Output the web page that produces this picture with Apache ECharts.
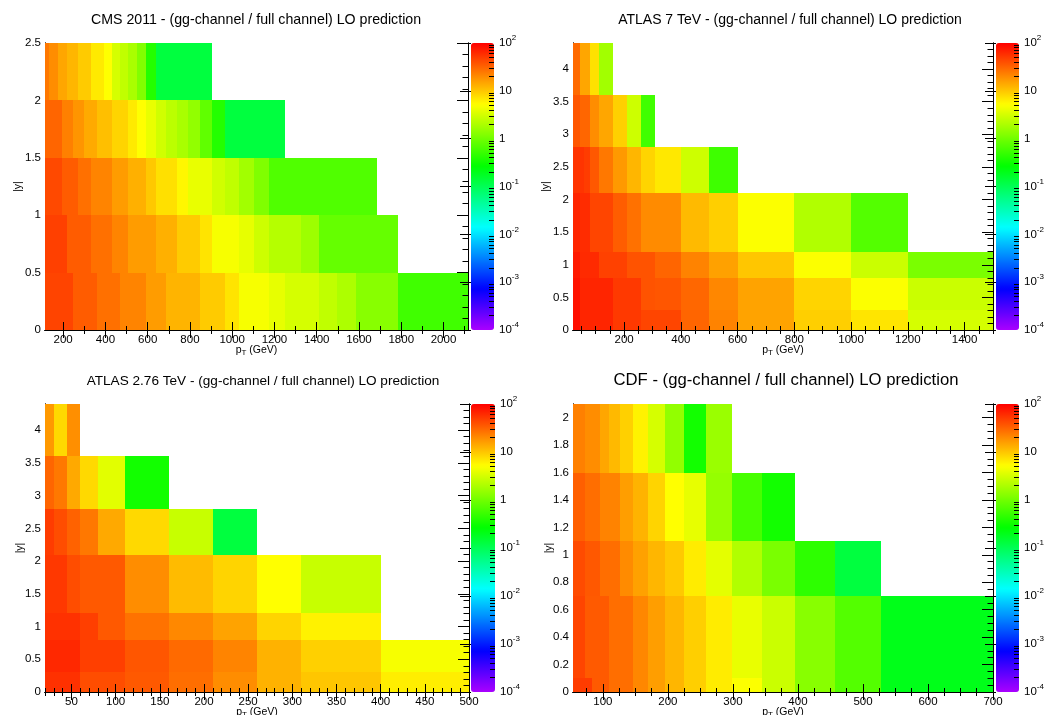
<!DOCTYPE html>
<html><head><meta charset="utf-8">
<script src="https://cdn.jsdelivr.net/npm/echarts@6/dist/echarts.min.js"></script>
<style>html,body{margin:0;padding:0;background:#fff}#c{width:1048px;height:715px}</style>
</head><body><div id="c"></div>
<script>
// ---------------- DATA (ratio gg-channel / full channel, %) ----------------
// CMS 2011
const cmsPtEdges = [114,133,153,174,196,220,245,272,300,330,362,395,430,468,507,548,592,638,686,737,790,846,905,967,1032,1101,1172,1248,1327,1410,1497,1588,1684,1784,1890,2000,2116];
const cmsYEdges = [0, 0.5, 1.0, 1.5, 2.0, 2.5];
const cmsRow0 = [45.5,45.5,45.5,45.5,45.5,45.5,34.4,34.4,34.4,34.4,27.2,27.2,27.2,21.7,21.7,21.7,16.4,16.4,12.3,12.3,12.3,9.4,9.4,7.1,4.7,4.7,3.9,3.2,3.2,2.5,2.0,1.3,1.3,0.56,0.56,0.56];
const cmsRow1 = [47.7,47.7,47.7,47.7,47.7,34.4,34.4,34.4,34.4,27.2,27.2,27.2,21.7,21.7,16.4,16.4,16.4,12.9,12.9,9.4,9.4,7.1,4.7,4.7,3.9,2.9,2.2,2.2,1.66,0.87,0.87,0.87,0.87];
const cmsRow2 = [43,43,43,43,34.4,34.4,34.4,27.2,27.2,21.7,21.7,21.7,16.4,16.4,12.9,12.9,9.8,7.4,7.4,5.7,4.0,4.0,3.0,2.5,1.75,1.18,0.68,0.68,0.68,0.68,0.68,0.68];
const cmsRow3 = [31,31,31,31,22.7,22.7,17.8,17.8,13.9,13.9,10.9,10.9,8.5,8.5,6.6,5.2,4.0,3.0,2.35,1.9,1.45,0.82,0.4,0.13,0.13,0.13,0.13];
const cmsRow4 = [25,19.5,19.5,14.6,14.6,12,12,9.4,9.4,6.6,6.6,5.2,3.2,2.5,1.9,1.2,0.4,0.13,0.13,0.13,0.13,0.13];
const cmsXTicks = [200,400,600,800,1000,1200,1400,1600,1800,2000];
const cmsYTicks = [0,0.5,1,1.5,2,2.5];

// ATLAS 7 TeV
const a7PtEdges = [20,30,45,60,80,110,160,210,260,310,400,500,600,800,1000,1200,1500];
const a7YEdges = [0,0.3,0.8,1.2,2.1,2.8,3.6,4.4];
const a7Row0 = [85,85,65,65,65,65,52,52,45,45,31,22,15,9,7,3.2];
const a7Row1 = [80,80,65,65,65,65,52,52,38,37,30,21,15,8.5,5,2.8];
const a7Row2 = [75,75,62,62,62,47,47,38,38,31,22,15.5,10,5,2.8,1.1];
const a7Row3 = [65,65,60,60,45,45,34,27,20,20,11.5,9,5,2.1,0.7];
const a7Row4 = [55,55,55,50,36,25,17,12,8.5,6.8,2.9,0.55];
const a7Row5 = [37,37,30.5,30.5,19.6,14.6,8.9,2.9,0.56];
const a7Row6 = [29,29,14.6,14.6,7.3,1.75];
const a7XTicks = [200,400,600,800,1000,1200,1400];
const a7YTicks = [0,0.5,1,1.5,2,2.5,3,3.5,4];

// ATLAS 2.76 TeV
const a276PtEdges = [20,30,45,60,80,110,160,210,260,310,400,500];
const a276YEdges = [0,0.3,0.8,1.2,2.1,2.8,3.6,4.4];
const a276Row0 = [57,57,57,41,41,35.5,28,19.6,12.6,10,6.3];
const a276Row1 = [63,63,63,48,48,37,29,21.7,12.6,8.9,4.7];
const a276Row2 = [57,57,57,48,35.5,26.5,20.6,15,8.5,6];
const a276Row3 = [52.5,52.5,41,35.5,35.5,19.6,11.4,8.5,5.2,2.7];
const a276Row4 = [50,41,32,25,14,8,2.7,0.13];
const a276Row5 = [31,25,14,8,3.7,0.33];
const a276Row6 = [17,8,19];
const a276XTicks = [50,100,150,200,250,300,350,400,450,500];
const a276YTicks = [0,0.5,1,1.5,2,2.5,3,3.5,4];

// CDF
const cdfPtEdges = [54,62,72,83,96,110,127,146,169,195,224,259,298,344,396,457,527,700];
const cdfYEdges = [0,0.1,0.7,1.1,1.6,2.1];
const cdfRow0 = [50,50,50,35,35,28,28,21,16,12,9,6.5,5,2.8,1.3,0.7,0.2];
const cdfRow1 = [45,45,35,35,35,28,28,21,16,12,9,6.5,4,2.8,1.3,0.7,0.2];
const cdfRow2 = [42,42,36,36,28,28,20,15.5,12,9.6,6.5,3.8,2.1,1.1,0.45,0.13];
const cdfRow3 = [33,33,28,28,22,22,16,12.5,8.5,5.2,3.9,1.5,0.6,0.33];
const cdfRow4 = [22.7,22.7,19.6,19.6,14.6,11.7,8.9,6,3.2,1.45,0.33,1.6];
const cdfXTicks = [100,200,300,400,500,600,700];
const cdfYTicks = [0,0.2,0.4,0.6,0.8,1,1.2,1.4,1.6,1.8,2];

// colour scale (log10 of ratio)
const zTicks = [-4,-3,-2,-1,0,1,2];

// ---------------- helpers ----------------
const FONT = '"Liberation Sans", Arial, Helvetica, sans-serif';
function range(a, b, s) { const r = []; for (let i = 0; a + i * s <= b + 1e-9; i++) r.push(+(a + i * s).toFixed(6)); return r; }
function hsl(h) {
  const f = n => { const k = (n + h / 30) % 12; return 0.5 - 0.5 * Math.max(-1, Math.min(k - 3, 9 - k, 1)); };
  const t = x => Math.round(x * 255).toString(16).padStart(2, '0');
  return '#' + t(f(0)) + t(f(8)) + t(f(4));
}
const palette = []; for (let h = 280; h >= 0; h -= 5) palette.push(hsl(h));
function cells(xEdges, yEdges, rows) {
  const out = [];
  rows.forEach((vals, r) => vals.forEach((v, i) => out.push([xEdges[i], xEdges[i + 1], yEdges[r], yEdges[r + 1], Math.log10(v), v])));
  return out;
}
const zMinor = [];
for (let n = -4; n < 2; n++) for (let k = 2; k <= 9; k++) zMinor.push(Math.log10(k) + n);

const panels = [
  { title: 'CMS 2011 - (gg-channel / full channel) LO prediction', tx: 256, ty: 20, ts: 14.2,
    grid: { left: 45, top: 43, width: 423, height: 287 }, bar: { left: 471, top: 43, width: 23, height: 287 },
    xE: cmsPtEdges, yE: cmsYEdges, rows: [cmsRow0, cmsRow1, cmsRow2, cmsRow3, cmsRow4],
    xMin: 114, xMax: 2116, yMax: 2.5, xMaj: cmsXTicks, xMin2: range(200, 2100, 100), yMaj: cmsYTicks, yMin2: range(0, 2.5, 0.1), yGap: 21 },
  { title: 'ATLAS 7 TeV - (gg-channel / full channel) LO prediction', tx: 790, ty: 20, ts: 14,
    grid: { left: 573, top: 43, width: 420, height: 287 }, bar: { left: 996, top: 43, width: 23, height: 287 },
    xE: a7PtEdges, yE: a7YEdges, rows: [a7Row0, a7Row1, a7Row2, a7Row3, a7Row4, a7Row5, a7Row6],
    xMin: 20, xMax: 1500, yMax: 4.4, xMaj: a7XTicks, xMin2: range(50, 1500, 50), yMaj: a7YTicks, yMin2: range(0, 4.4, 0.1), yGap: 21 },
  { title: 'ATLAS 2.76 TeV - (gg-channel / full channel) LO prediction', tx: 263, ty: 381, ts: 13.6,
    grid: { left: 45, top: 404, width: 424, height: 288 }, bar: { left: 471, top: 404, width: 24, height: 288 },
    xE: a276PtEdges, yE: a276YEdges, rows: [a276Row0, a276Row1, a276Row2, a276Row3, a276Row4, a276Row5, a276Row6],
    xMin: 20, xMax: 500, yMax: 4.4, xMaj: a276XTicks, xMin2: range(20, 500, 10), yMaj: a276YTicks, yMin2: range(0, 4.4, 0.1), yGap: 19 },
  { title: 'CDF - (gg-channel / full channel) LO prediction', tx: 786, ty: 380, ts: 16.7,
    grid: { left: 573, top: 404, width: 420, height: 288 }, bar: { left: 996, top: 404, width: 23, height: 288 },
    xE: cdfPtEdges, yE: cdfYEdges, rows: [cdfRow0, cdfRow1, cdfRow2, cdfRow3, cdfRow4],
    xMin: 54, xMax: 700, yMax: 2.1, xMaj: cdfXTicks, xMin2: range(75, 700, 25), yMaj: cdfYTicks, yMin2: range(0, 2.1, 0.05), yGap: 18 }
];

const grid = [], xAxis = [], yAxis = [], series = [], visualMap = [], graphic = [];
const lbl = { color: '#000', fontFamily: FONT, fontSize: 11.5, formatter: v => String(+v.toFixed(4)) };
const line = { show: true, lineStyle: { color: '#000', width: 1 } };

panels.forEach((p, i) => {
  const gi = grid.length;
  grid.push(Object.assign({ show: false, containLabel: false, outerBoundsMode: 'none' }, p.grid));
  const bx = { type: 'value', gridIndex: gi, min: p.xMin, max: p.xMax, splitLine: { show: false }, axisLine: line };
  const xi = xAxis.length;
  xAxis.push(Object.assign({}, bx, { position: 'bottom', z: 5,
    axisTick: { inside: true, length: 8, customValues: p.xMaj, lineStyle: { color: '#000' } },
    axisLabel: Object.assign({ customValues: p.xMaj, margin: 4 }, lbl),
    name: '{a|p}{t|T}{a| (GeV)}', nameLocation: 'middle', nameGap: 15, nameMoveOverlap: false,
    nameTextStyle: { rich: {
      a: { fontFamily: FONT, fontSize: 10.5, color: '#000', verticalAlign: 'top', lineHeight: 12 },
      t: { fontFamily: FONT, fontSize: 8, color: '#000', verticalAlign: 'bottom', lineHeight: 9, padding: [9, 0, 0, 0] } } } }));
  xAxis.push(Object.assign({}, bx, { position: 'bottom', z: 5, axisTick: { inside: true, length: 4, customValues: p.xMin2, lineStyle: { color: '#000' } }, axisLabel: { show: false } }));
  xAxis.push(Object.assign({}, bx, { position: 'top', axisTick: { inside: true, length: 8, customValues: p.xMaj, lineStyle: { color: '#000' } }, axisLabel: { show: false } }));
  xAxis.push(Object.assign({}, bx, { position: 'top', axisTick: { inside: true, length: 4, customValues: p.xMin2, lineStyle: { color: '#000' } }, axisLabel: { show: false } }));

  const by = { type: 'value', gridIndex: gi, min: 0, max: p.yMax, splitLine: { show: false }, axisLine: line };
  const yi = yAxis.length;
  yAxis.push(Object.assign({}, by, { position: 'left',
    axisTick: { inside: true, length: 11, customValues: p.yMaj, lineStyle: { color: '#000' } },
    axisLabel: Object.assign({ customValues: p.yMaj, margin: 4 }, lbl),
    name: '|y|', nameLocation: 'middle', nameRotate: 90, nameGap: p.yGap, nameMoveOverlap: false,
    nameTextStyle: { fontFamily: FONT, fontSize: 10.5, color: '#000' } }));
  yAxis.push(Object.assign({}, by, { position: 'left', axisTick: { inside: true, length: 5.5, customValues: p.yMin2, lineStyle: { color: '#000' } }, axisLabel: { show: false } }));
  yAxis.push(Object.assign({}, by, { position: 'right', z: 5, axisTick: { inside: true, length: 11, customValues: p.yMaj, lineStyle: { color: '#000' } }, axisLabel: { show: false } }));
  yAxis.push(Object.assign({}, by, { position: 'right', z: 5, axisTick: { inside: true, length: 5.5, customValues: p.yMin2, lineStyle: { color: '#000' } }, axisLabel: { show: false } }));

  // colour bar grid and axis
  const cg = grid.length;
  grid.push(Object.assign({ show: false, containLabel: false, outerBoundsMode: 'none' }, p.bar));
  xAxis.push({ type: 'value', gridIndex: cg, min: 0, max: 1, show: false });
  const cb = { type: 'value', gridIndex: cg, min: -4, max: 2, position: 'right', z: 5, splitLine: { show: false }, axisLine: { show: false } };
  yAxis.push(Object.assign({}, cb, {
    axisTick: { inside: true, length: 11, customValues: zTicks, lineStyle: { color: '#000' } },
    axisLabel: { customValues: zTicks, margin: 5,
      formatter: v => { const n = Math.round(v); if (n === 0) return '{b|1}'; if (n === 1) return '{b|10}'; return '{b|10}{s|' + n + '}'; },
      rich: { b: { fontFamily: FONT, fontSize: 11.5, color: '#000', verticalAlign: 'bottom', lineHeight: 12 },
              s: { fontFamily: FONT, fontSize: 8, color: '#000', verticalAlign: 'bottom', lineHeight: 8, padding: [0, 0, 7, 0] } } } }));
  yAxis.push(Object.assign({}, cb, { axisTick: { inside: true, length: 5, customValues: zMinor, lineStyle: { color: '#000' } }, axisLabel: { show: false } }));

  series.push({ type: 'custom', xAxisIndex: xi, yAxisIndex: yi, z: 2,
    encode: { x: [0, 1], y: [2, 3] },
    data: cells(p.xE, p.yE, p.rows),
    renderItem: (params, api) => {
      const a = api.coord([api.value(0), api.value(2)]);
      const b = api.coord([api.value(1), api.value(3)]);
      const x0 = Math.round(a[0]), x1 = Math.round(b[0]), y0 = Math.round(b[1]), y1 = Math.round(a[1]);
      return { type: 'rect', shape: { x: x0, y: y0, width: x1 - x0, height: y1 - y0 }, style: { fill: api.visual('color') } };
    } });

  visualMap.push({ type: 'continuous', seriesIndex: i, dimension: 4, min: -4, max: 2, calculable: false,
    orient: 'vertical', left: p.bar.left, top: p.bar.top, itemWidth: p.bar.width, itemHeight: p.bar.height,
    padding: 0, text: null, showLabel: false, hoverLink: false, inRange: { color: palette } });

  graphic.push({ type: 'text', x: p.tx, y: p.ty, z: 10,
    style: { text: p.title, font: p.ts + 'px ' + FONT, fill: '#000', align: 'center', verticalAlign: 'middle', textAlign: 'center', textVerticalAlign: 'middle' } });
});

const chart = echarts.init(document.getElementById('c'), null, { renderer: 'canvas' });
chart.setOption({ backgroundColor: '#fff', animation: false, grid, xAxis, yAxis, series, visualMap, graphic });
</script>
</body></html>
